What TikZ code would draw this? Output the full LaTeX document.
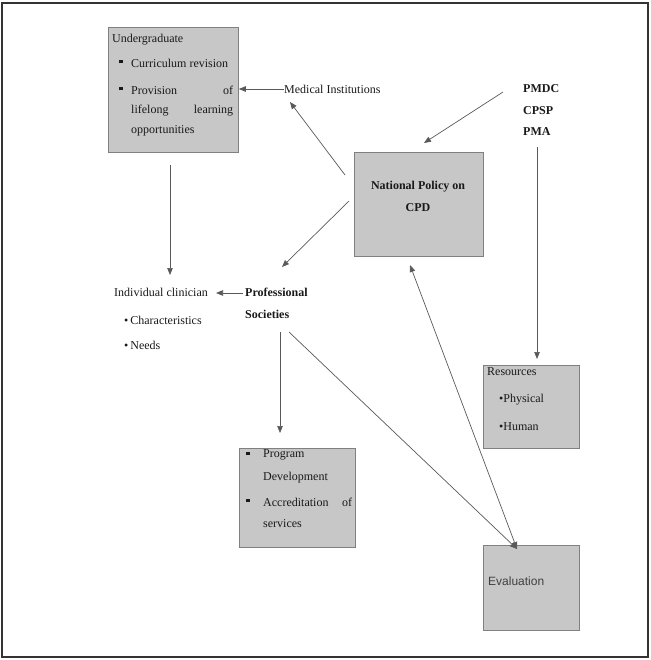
\documentclass[tikz,border=0pt]{standalone}
\usepackage{fontspec}
\setmainfont{Liberation Serif}
\newfontfamily\evalfont{Liberation Sans}
\usetikzlibrary{arrows.meta}
\tikzset{
  box/.style={draw=black!50, line width=0.8pt, fill=black!22, inner sep=0pt, anchor=north west},
  txt/.style={anchor=west, inner sep=0pt, font=\fontsize{12}{14}\selectfont, text=black!90},
  btxt/.style={txt, font=\fontsize{12}{14}\selectfont\bfseries},
  arr/.style={draw=black!65, line width=0.7pt, -{Triangle[length=7pt,width=5.5pt]}},
  darr/.style={draw=black!65, line width=0.7pt, {Triangle[length=7pt,width=5.5pt]}-{Triangle[length=7pt,width=5.5pt]}},
}
\newcommand{\sqb}{\rule[0.5ex]{3.5pt}{3.5pt}}
\begin{document}
\begin{tikzpicture}[x=1pt,y=-1pt]
\useasboundingbox (0,0) rectangle (650,660);
\draw[line width=1.6pt, black!80] (2,3) rectangle (648,657);

% boxes
\node[box, minimum width=130pt, minimum height=125pt] (ug) at (108,27) {};
\node[box, minimum width=129pt, minimum height=104pt] (np) at (354,152) {};
\node[box, minimum width=96pt, minimum height=83pt] (res) at (483,365) {};
\node[box, minimum width=116pt, minimum height=99pt] (prog) at (239,448) {};
\node[box, minimum width=96pt, minimum height=85pt] (ev) at (483,545) {};

% undergraduate text
\node[txt] (ug0) at (112,40) {Undergraduate};
\node[txt] (ugb1) at (119,63) {\sqb};
\node[txt] (ug1) at (131,63) {Curriculum revision};
\node[txt] (ugb2) at (119,90) {\sqb};
\node[txt] (ug2) at (131,90) {\makebox[102pt][s]{Provision of}};
\node[txt] (ug3) at (131,111) {\makebox[102pt][s]{lifelong learning}};
\node[txt] (ug4) at (131,131) {opportunities};

% medical institutions
\node[txt] (mi) at (284,89) {Medical Institutions};

% PMDC etc
\node[btxt] (pmdc) at (523,89) {PMDC};
\node[btxt] (cpsp) at (523,111) {CPSP};
\node[btxt] (pma) at (523,132) {PMA};

% national policy
\node[btxt, anchor=center] (np1) at (418,187) {National Policy on};
\node[btxt, anchor=center] (np2) at (418,208) {CPD};

% professional societies
\node[btxt] (ps1) at (245,292) {Professional};
\node[btxt] (ps2) at (245,314) {Societies};

% individual clinician
\node[txt] (ic) at (114,292) {Individual clinician};
\node[txt] (ic1) at (124,320) {\textbullet\,Characteristics};
\node[txt] (ic2) at (124,345) {\textbullet\,Needs};

% program box
\node[txt] (pb1) at (246,455) {\sqb};
\node[txt] (p1) at (263,455) {Program};
\node[txt] (p2) at (263,478) {Development};
\node[txt] (pb2) at (246,502) {\sqb};
\node[txt] (p3) at (263,502) {\makebox[89pt][s]{Accreditation of}};
\node[txt] (p4) at (263,524) {services};

% resources
\node[txt] (r0) at (487,372) {Resources};
\node[txt] (r1) at (499,400) {\textbullet Physical};
\node[txt] (r2) at (499,427) {\textbullet Human};

% evaluation
\node[txt, font=\evalfont\fontsize{12}{14}\selectfont, text=black!75] (ev1) at (488,581) {Evaluation};

% connector end points
\coordinate (a1s) at (345,175);
\coordinate (a1e) at (290,102);
\coordinate (a2s) at (503,92);
\coordinate (a2e) at (424,143);
\coordinate (a3s) at (537,147);
\coordinate (a3e) at (537,359);
\coordinate (a4s) at (349,201);
\coordinate (a4e) at (282,267);
\coordinate (a5s) at (170,165);
\coordinate (a5e) at (170,275);
\coordinate (a6s) at (243,293);
\coordinate (a6e) at (216,293);
\coordinate (a7s) at (280,332);
\coordinate (a7e) at (280,433);
\coordinate (a8s) at (289,332);
\coordinate (a9s) at (410,265);
\coordinate (evt) at (517,549);

% connectors
\draw[arr] (mi.west) -- (mi.west -| ug.east);
\draw[arr] (a1s) -- (a1e);
\draw[arr] (a2s) -- (a2e);
\draw[arr] (a3s) -- (a3e);
\draw[arr] (a4s) -- (a4e);
\draw[arr] (a5s) -- (a5e);
\draw[arr] (a6s) -- (a6e);
\draw[arr] (a7s) -- (a7e);
\draw[arr] (a8s) -- (evt);
\draw[darr] (a9s) -- (evt);
\end{tikzpicture}
\end{document}
